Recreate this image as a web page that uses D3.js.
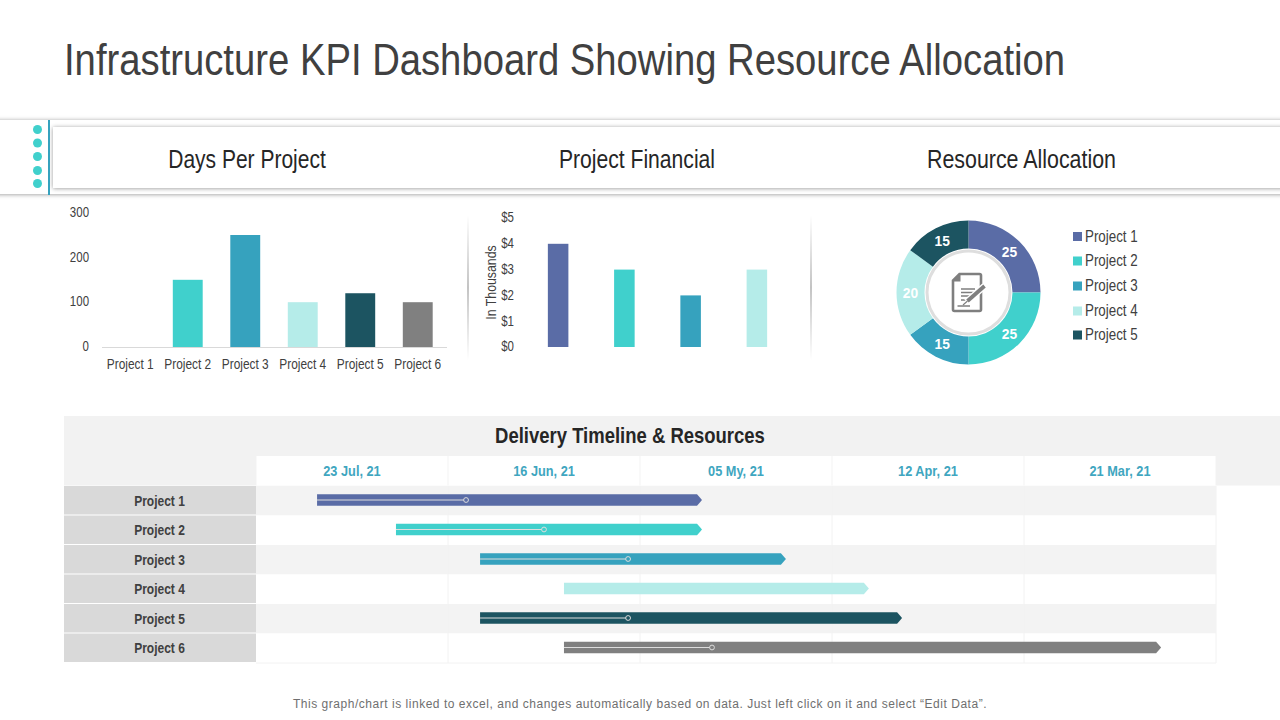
<!DOCTYPE html>
<html>
<head>
<meta charset="utf-8">
<script src="https://cdn.jsdelivr.net/npm/d3@7"></script>
<style>
body { margin: 0; background: #fff; }
svg { display: block; }
text { font-family: "Liberation Sans", sans-serif; }
</style>
</head>
<body>
<svg id="chart" width="1280" height="720"></svg>
<script>
var colors = ["#5A6CA6", "#40D0CC", "#36A2BE", "#B5ECE9", "#1C5461", "#808080"];

var dayProjects = ["Project 1", "Project 2", "Project 3", "Project 4", "Project 5", "Project 6"];
var dayValues = [0, 150, 250, 100, 120, 100];
var dayTicks = [0, 100, 200, 300];

var financeProjects = ["Project 1", "Project 2", "Project 3", "Project 4"];
var financeValues = [4, 3, 2, 3];
var financeTicks = [0, 1, 2, 3, 4, 5];

var resourceProjects = ["Project 1", "Project 2", "Project 3", "Project 4", "Project 5"];
var resourceValues = [25, 25, 15, 20, 15];

var timelineDates = ["23 Jul, 21", "16 Jun, 21", "05 My, 21", "12 Apr, 21", "21 Mar, 21"];
var timelineProjects = ["Project 1", "Project 2", "Project 3", "Project 4", "Project 5", "Project 6"];
// in date columns from the left edge of the table
var timelineStart = [0.318, 0.729, 1.167, 1.604, 1.167, 1.604];
var timelineEnd = [2.297, 2.297, 2.734, 3.166, 3.339, 4.688];
var timelineMark = [1.094, 1.5, 1.938, 2.375, 1.938, 2.375];

var svg = d3.select("#chart");
var defs = svg.append("defs");

var shadow = defs.append("filter").attr("id", "shadow")
    .attr("x", "-2%").attr("y", "-20%").attr("width", "104%").attr("height", "140%");
shadow.append("feDropShadow").attr("dx", 0).attr("dy", 0.5).attr("stdDeviation", 2)
    .attr("flood-color", "#000").attr("flood-opacity", 0.4);

var fade = defs.append("linearGradient").attr("id", "fade")
    .attr("x1", 0).attr("y1", 0).attr("x2", 0).attr("y2", 1);
fade.append("stop").attr("offset", "0%").attr("stop-color", "#888").attr("stop-opacity", 0);
fade.append("stop").attr("offset", "50%").attr("stop-color", "#888").attr("stop-opacity", 1);
fade.append("stop").attr("offset", "100%").attr("stop-color", "#888").attr("stop-opacity", 0);

// the picture uses a condensed face, so squeeze the installed one to the same width
var narrow = function(selection, ratio)
{
    selection.each(function() {
        var len = this.getComputedTextLength();
        d3.select(this).attr("textLength", len * ratio).attr("lengthAdjust", "spacingAndGlyphs");
    });
}

var drawHeader = function()
{
    svg.append("text").attr("x", 64).attr("y", 75)
        .attr("font-size", 44).attr("fill", "#404040")
        .text("Infrastructure KPI Dashboard Showing Resource Allocation")
        .call(narrow, 0.869);

    svg.append("rect").attr("x", -10).attr("y", 120).attr("width", 1300).attr("height", 74)
        .attr("fill", "#fff").attr("filter", "url(#shadow)");
    svg.append("rect").attr("x", 53).attr("y", 127).attr("width", 1240).attr("height", 61)
        .attr("fill", "#fff").attr("filter", "url(#shadow)");
    svg.append("rect").attr("x", 48).attr("y", 120).attr("width", 2).attr("height", 75)
        .attr("fill", "#36A2BE");

    svg.selectAll(".dot").data([129.5, 143, 156.5, 170.5, 183.5]).enter().append("circle")
        .attr("class", "dot").attr("cx", 37.5).attr("cy", function(d) { return d; })
        .attr("r", 4.5).attr("fill", "#40D0CC");

    var heads = [["Days Per Project", 247, 0.84], ["Project Financial", 637, 0.845], ["Resource Allocation", 1021.5, 0.855]];
    svg.selectAll(".head").data(heads).enter().append("text")
        .attr("class", "head").attr("x", function(d) { return d[1]; }).attr("y", 167.5)
        .attr("text-anchor", "middle").attr("font-size", 25).attr("fill", "#262626")
        .text(function(d) { return d[0]; })
        .each(function(d) { d3.select(this).call(narrow, d[2]); });
}

var drawDays = function()
{
    var x = d3.scaleBand().domain(dayProjects).range([101.5, 446.5]).paddingInner(0.48).paddingOuter(0.24);
    var y = d3.scaleLinear().domain([0, 300]).range([347, 212.6]);

    var yAxis = svg.append("g").attr("transform", "translate(94,-0.8)")
        .call(d3.axisLeft(y).tickValues(dayTicks).tickSize(0).tickPadding(5));
    yAxis.select(".domain").remove();
    yAxis.selectAll("text").attr("font-size", 14).attr("fill", "#404040").call(narrow, 0.82);

    var xAxis = svg.append("g").attr("transform", "translate(0,347)")
        .call(d3.axisBottom(x).tickSize(0).tickPadding(12));
    xAxis.select(".domain").attr("stroke", "#d9d9d9");
    xAxis.selectAll("text").attr("font-size", 14).attr("fill", "#404040").call(narrow, 0.85);

    svg.selectAll(".dayBar").data(dayValues).enter().append("rect")
        .attr("class", "dayBar")
        .attr("x", function(d, i) { return x(dayProjects[i]); })
        .attr("y", function(d) { return y(d); })
        .attr("width", x.bandwidth())
        .attr("height", function(d) { return y(0) - y(d); })
        .attr("fill", function(d, i) { return colors[i]; });
}

var drawFinance = function()
{
    var x = d3.scaleBand().domain(financeProjects).range([525, 790]).paddingInner(0.69).paddingOuter(0.345);
    var y = d3.scaleLinear().domain([0, 5]).range([347, 218]);

    svg.selectAll(".side").data([467.5, 810.5]).enter().append("rect")
        .attr("class", "side").attr("x", function(d) { return d; })
        .attr("y", 215).attr("width", 1).attr("height", 145).attr("fill", "url(#fade)");

    var yAxis = svg.append("g").attr("transform", "translate(519,-0.5)")
        .call(d3.axisLeft(y).tickValues(financeTicks).tickSize(0).tickPadding(5)
            .tickFormat(function(d) { return "$" + d; }));
    yAxis.select(".domain").remove();
    yAxis.selectAll("text").attr("font-size", 14).attr("fill", "#404040").call(narrow, 0.82);

    svg.append("text").attr("transform", "translate(495.5,282.5) rotate(-90)")
        .attr("text-anchor", "middle").attr("font-size", 14).attr("fill", "#404040")
        .text("In Thousands")
        .call(narrow, 0.88);

    svg.selectAll(".financeBar").data(financeValues).enter().append("rect")
        .attr("class", "financeBar")
        .attr("x", function(d, i) { return x(financeProjects[i]); })
        .attr("y", function(d) { return y(d); })
        .attr("width", x.bandwidth())
        .attr("height", function(d) { return y(0) - y(d); })
        .attr("fill", function(d, i) { return colors[i]; });
}

var drawResources = function()
{
    var donut = svg.append("g").attr("transform", "translate(968.5,292.5)");
    var pie = d3.pie().sort(null)(resourceValues);
    var arc = d3.arc().innerRadius(44).outerRadius(72);

    donut.selectAll("path").data(pie).enter().append("path")
        .attr("d", arc)
        .attr("fill", function(d, i) { return colors[i]; });

    donut.selectAll("text").data(pie).enter().append("text")
        .attr("transform", function(d) { return "translate(" + arc.centroid(d) + ")"; })
        .attr("dy", "0.35em").attr("text-anchor", "middle")
        .attr("font-size", 15).attr("font-weight", "bold").attr("fill", "#fff")
        .text(function(d) { return d.data; })
        .call(narrow, 0.92);

    donut.append("circle").attr("r", 41.5).attr("fill", "#fff")
        .attr("stroke", "#dedede").attr("stroke-width", 3);

    // note icon in the middle of the ring
    var icon = donut.append("g").attr("fill", "none").attr("stroke", "#7f7f7f");
    icon.append("path").attr("stroke-width", 2.6)
        .attr("d", "M-9,-18.5 H11 Q12.5,-18.5 12.5,-17 V17 Q12.5,18.5 11,18.5 H-14 Q-15.5,18.5 -15.5,17 V-12 Z");
    icon.append("path").attr("fill", "#7f7f7f").attr("stroke", "none")
        .attr("d", "M-8,-19 V-11 H-16 Z");
    icon.append("path").attr("stroke-width", 1.5)
        .attr("d", "M-7.5,-3.5 H6.5 M-7.5,0 H6.5 M-7.5,3.5 H6.5 M-7.5,7.5 H1 M-11,13.5 H1.5");
    icon.append("path").attr("stroke", "#fff").attr("stroke-width", 6.5)
        .attr("d", "M-2,9.5 L16,-6.5");
    icon.append("path").attr("stroke-width", 3.8)
        .attr("d", "M-1,8.5 L16,-6.5");
    icon.append("path").attr("stroke-width", 1.2)
        .attr("d", "M-1,8.5 L-5.5,12.5");

    var legend = svg.selectAll(".legend").data(resourceProjects).enter().append("g")
        .attr("class", "legend")
        .attr("transform", function(d, i) { return "translate(1073," + [236.5, 261, 286, 311, 335][i] + ")"; });
    legend.append("rect").attr("y", -4.5).attr("width", 9).attr("height", 9)
        .attr("fill", function(d, i) { return colors[i]; });
    legend.append("text").attr("x", 12).attr("y", -0.5).attr("dy", "0.35em")
        .attr("font-size", 16).attr("fill", "#404040")
        .text(function(d) { return d; })
        .call(narrow, 0.835);
}

var drawTimeline = function()
{
    var x = d3.scaleLinear().domain([0, timelineDates.length]).range([256, 1216]);
    var y = d3.scaleBand().domain(timelineProjects).range([486, 663]);

    svg.append("rect").attr("x", 64).attr("y", 416).attr("width", 1216).attr("height", 69.5)
        .attr("fill", "#f2f2f2");
    svg.append("text").attr("x", 630).attr("y", 443).attr("text-anchor", "middle")
        .attr("font-size", 22).attr("font-weight", "bold").attr("fill", "#262626")
        .text("Delivery Timeline & Resources")
        .call(narrow, 0.84);

    svg.selectAll(".dateCell").data(timelineDates).enter().append("rect")
        .attr("class", "dateCell")
        .attr("x", function(d, i) { return x(i) + 0.5; }).attr("y", 456)
        .attr("width", x(1) - x(0) - 1).attr("height", 29.5).attr("fill", "#fff");
    svg.selectAll(".dateText").data(timelineDates).enter().append("text")
        .attr("class", "dateText")
        .attr("x", function(d, i) { return x(i + 0.5); }).attr("y", 476)
        .attr("text-anchor", "middle").attr("font-size", 15).attr("font-weight", "bold")
        .attr("fill", "#3FA6C0")
        .text(function(d) { return d; })
        .call(narrow, 0.85);

    svg.selectAll(".rowBg").data(timelineProjects).enter().append("rect")
        .attr("class", "rowBg")
        .attr("x", x(0)).attr("y", function(d) { return y(d); })
        .attr("width", x(5) - x(0)).attr("height", y.bandwidth())
        .attr("fill", function(d, i) { return i % 2 ? "#fff" : "#f3f3f3"; });

    svg.selectAll(".grid").data(d3.range(1, 6)).enter().append("line")
        .attr("class", "grid")
        .attr("x1", function(d) { return x(d); }).attr("x2", function(d) { return x(d); })
        .attr("y1", 486).attr("y2", 663)
        .attr("stroke", "#f2f2f2").attr("stroke-width", 1);
    svg.append("line").attr("x1", x(0)).attr("x2", x(5)).attr("y1", 663).attr("y2", 663)
        .attr("stroke", "#f2f2f2");

    svg.selectAll(".rowHead").data(timelineProjects).enter().append("rect")
        .attr("class", "rowHead")
        .attr("x", 64).attr("y", function(d) { return y(d); })
        .attr("width", 192).attr("height", y.bandwidth() - 1)
        .attr("fill", "#d9d9d9");
    svg.selectAll(".rowText").data(timelineProjects).enter().append("text")
        .attr("class", "rowText")
        .attr("x", 159.5).attr("y", function(d) { return y(d) + y.bandwidth() / 2 + 5; })
        .attr("text-anchor", "middle").attr("font-size", 15).attr("font-weight", "bold")
        .attr("fill", "#404040")
        .text(function(d) { return d; })
        .call(narrow, 0.8);

    var rows = svg.selectAll(".row").data(timelineProjects).enter().append("g")
        .attr("class", "row")
        .attr("transform", function(d) { return "translate(0," + (y(d) + y.bandwidth() / 2 - 0.75) + ")"; });

    rows.append("path")
        .attr("d", function(d, i) {
            var a = x(timelineStart[i]), b = x(timelineEnd[i]);
            return "M" + a + ",-5.75 H" + b + " L" + (b + 5) + ",0 L" + b + ",5.75 H" + a + " Z";
        })
        .attr("fill", function(d, i) { return colors[i]; });
    rows.append("line")
        .attr("x1", function(d, i) { return x(timelineStart[i]); })
        .attr("x2", function(d, i) { return x(timelineMark[i]); })
        .attr("stroke", function(d, i) { return i == 3 ? colors[3] : "#ddd"; })
        .attr("stroke-width", 1);
    rows.append("circle")
        .attr("cx", function(d, i) { return x(timelineMark[i]); })
        .attr("r", 2.4)
        .attr("fill", function(d, i) { return colors[i]; })
        .attr("stroke", function(d, i) { return i == 3 ? colors[3] : "#ddd"; })
        .attr("stroke-width", 1);
}

drawHeader();
drawDays();
drawFinance();
drawResources();
drawTimeline();

svg.append("text").attr("x", 640).attr("y", 708).attr("text-anchor", "middle")
    .attr("font-size", 12).attr("letter-spacing", 0.53).attr("fill", "#6f6f6f")
    .text("This graph/chart is linked to excel, and changes automatically based on data. Just left click on it and select \u201cEdit Data\u201d.");
</script>
</body>
</html>
